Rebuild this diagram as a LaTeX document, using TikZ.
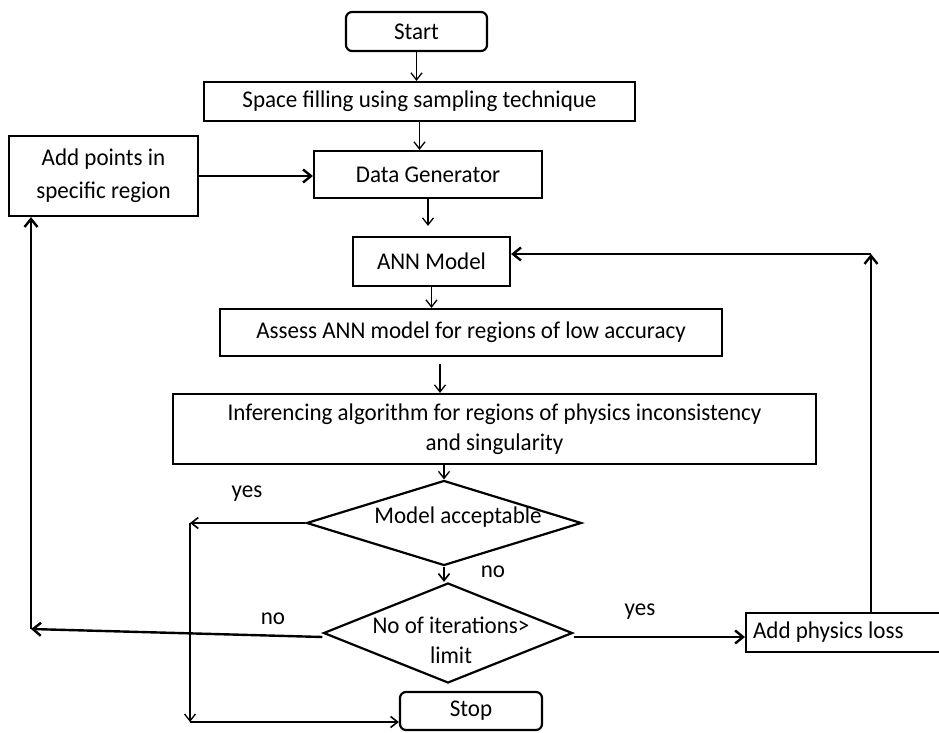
\documentclass[tikz,border=0pt]{standalone}
\usepackage{fontspec}
\setmainfont{Carlito}[FakeStretch=0.96]
\usetikzlibrary{shapes.geometric,arrows.meta}

\begin{document}
\begin{tikzpicture}[x=1pt, y=-1pt,
    font=\fontsize{24}{30}\selectfont,
    box/.style={draw, line width=2.2pt, inner sep=0pt, align=center},
    term/.style={box, rounded corners=6pt},
    decision/.style={draw, diamond, line width=2.2pt, inner sep=0pt},
    flow/.style={-{Straight Barb[length=7pt,width=11pt]}, line width=1.3pt},
    bigflow/.style={-{Straight Barb[length=8pt,width=13pt]}, line width=2.4pt},
    lbl/.style={inner sep=0pt}]
    \useasboundingbox (0,0) rectangle (939,733);

    % Blocchi del flusso principale
    \node[term, minimum width=141pt, minimum height=39pt] (start) at (416.5,31.5) {Start};
    \node[box, minimum width=431pt, minimum height=39pt] (space) at (419.5,101.5) {Space filling using sampling technique};
    \node[box, minimum width=228pt, minimum height=47pt] (datagen) at (428,174.5) {Data Generator};
    \node[box, minimum width=189pt, minimum height=80pt] (addpts) at (103.5,176) {Add points in\\[3pt] specific region};
    \node[box, minimum width=157pt, minimum height=49pt] (ann) at (431.5,261.5) {ANN Model};
    \node[box, minimum width=502pt, minimum height=47pt] (assess) at (471,332.5) {Assess ANN model for regions of low accuracy};
    \node[box, minimum width=643pt, minimum height=70pt] (infer) at (494.5,429) {Inferencing algorithm for regions of physics inconsistency\\ and singularity};

    % Decisioni
    \node[decision, minimum width=275pt, minimum height=85pt,
        label={[lbl, xshift=14pt, yshift=6pt]center:Model acceptable}] (accept) at (444,523) {};
    \node[decision, minimum width=249pt, minimum height=100pt,
        label={[lbl, align=center, xshift=3pt, yshift=-7pt]center:No of iterations>\\limit}] (iter) at (448,633) {};

    % Uscite
    \node[term, minimum width=142pt, minimum height=38pt] (stop) at (471,711) {Stop};
    \node[box, anchor=west, text width=200pt, align=flush left, inner xsep=7pt, minimum height=39pt] (physloss) at (745,632.5) {Add physics loss};

    % Etichette dei rami
    \node[lbl] (yesa) at (247,494) {yes};
    \node[lbl] (noa) at (493,572) {no};
    \node[lbl] (nob) at (273,619) {no};
    \node[lbl] (yesb) at (640,612) {yes};

    % Punti d'angolo dei ritorni
    \coordinate (ycorner) at (190,523);
    \coordinate (ybottom) at (190,722);
    \coordinate (ncorner) at (31,629);
    \coordinate (rcorner) at (871,254);

    % Frecce del flusso principale
    \draw[flow] (start.south) -- (start.south |- space.north);
    \draw[flow] (space.south) -- (space.south |- datagen.north);
    \draw[bigflow] (addpts.east) -- (addpts.east -| datagen.west);
    \draw[flow] (datagen.south) -- ([yshift=10pt]datagen.south |- ann.north);
    \draw[flow] (ann.south) -- (ann.south |- assess.north);
    \draw[flow] ([xshift=-31pt,yshift=-7pt]assess.south) -- ([xshift=-31pt]assess.south |- infer.north);
    \draw[flow] (accept.north |- infer.south) -- (accept.north);
    \draw[flow, line width=1.6pt] (accept.south) -- (accept.south |- iter.north);

    % Ramo yes: fine
    \draw[flow, line width=1.6pt] (accept.west) -- (ycorner);
    \draw[flow] (ycorner) -- (ybottom);
    \draw[flow, line width=1.6pt] (ybottom) -- (ybottom -| stop.west);

    % Ramo no: nuovi punti
    \draw[bigflow] ([yshift=-4pt]iter.west) -- (ncorner);
    \draw[bigflow] (ncorner) -- (ncorner |- addpts.south);

    % Ramo yes: physics loss e ritorno al modello
    \draw[bigflow] ([yshift=-4pt]iter.east) -- ([yshift=-4pt]iter.east -| physloss.west);
    \draw[bigflow] (rcorner |- physloss.north) -- (rcorner);
    \draw[bigflow] (rcorner) -- (rcorner -| ann.east);
\end{tikzpicture}
\end{document}
